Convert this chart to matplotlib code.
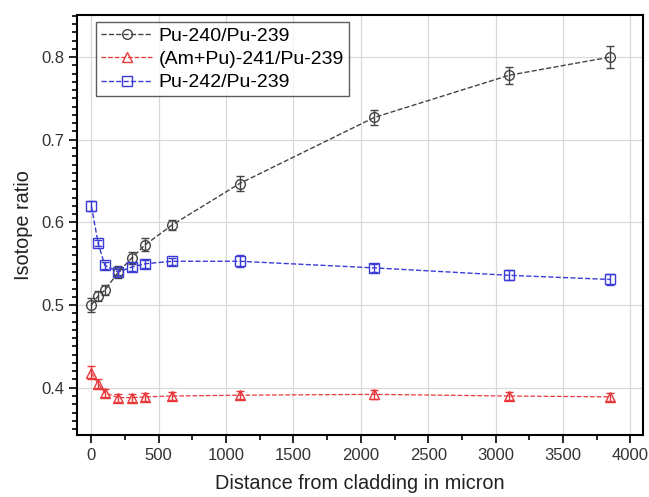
import numpy as np
import matplotlib.pyplot as plt
from matplotlib.ticker import MultipleLocator

plt.rcParams['font.family'] = ['Liberation Sans', 'DejaVu Sans']

# distance from cladding (micron)
distance = [0, 50, 100, 200, 300, 400, 600, 1100, 2100, 3100, 3850]

pu240 = [0.500, 0.511, 0.518, 0.540, 0.557, 0.573, 0.597, 0.647, 0.727, 0.778, 0.800]
pu240_err = [0.008, 0.006, 0.006, 0.007, 0.007, 0.008, 0.006, 0.009, 0.009, 0.010, 0.013]

am241 = [0.418, 0.405, 0.394, 0.388, 0.388, 0.389, 0.390, 0.391, 0.392, 0.390, 0.389]
am241_err = [0.008, 0.005, 0.005, 0.005, 0.005, 0.005, 0.005, 0.005, 0.005, 0.005, 0.005]

pu242 = [0.620, 0.575, 0.548, 0.540, 0.546, 0.550, 0.553, 0.553, 0.545, 0.536, 0.531]
pu242_err = [0.006, 0.004, 0.004, 0.004, 0.005, 0.005, 0.004, 0.007, 0.005, 0.006, 0.007]

labels = ['Pu-240/Pu-239', '(Am+Pu)-241/Pu-239', 'Pu-242/Pu-239']

fig = plt.figure(figsize=(6.49, 4.97), dpi=100)
ax = fig.add_axes([0.119, 0.125, 0.872, 0.845])

e1 = ax.errorbar(distance, pu240, yerr=pu240_err, color='#444444', ls='--', lw=1,
                 marker='o', ms=7, mfc='none', mew=1, capsize=3, elinewidth=1,
                 zorder=3)
e2 = ax.errorbar(distance, am241, yerr=am241_err, color='#e8383c', ls='--', lw=0.9,
                 marker='^', ms=7, mfc='none', mew=1, capsize=3, elinewidth=1,
                 zorder=3)
e3 = ax.errorbar(distance, pu242, yerr=pu242_err, color='#3b3bd6', ls='--', lw=1,
                 marker='s', ms=7, mfc='none', mew=1, capsize=3, elinewidth=1,
                 zorder=3)

ax.set_xlim(-105, 4095)
ax.set_ylim(0.343, 0.851)
ax.xaxis.set_major_locator(MultipleLocator(500))
ax.xaxis.set_minor_locator(MultipleLocator(250))
ax.yaxis.set_major_locator(MultipleLocator(0.1))
ax.yaxis.set_minor_locator(MultipleLocator(0.01))
ax.tick_params(which='major', direction='out', length=6, width=1.2, labelsize=12,
               labelcolor='#333333', top=False, right=False)
ax.tick_params(which='minor', direction='out', length=3.5, width=1.2, top=False, right=False)
ax.grid(True, which='major', color='#d9d9d9', lw=0.9)
ax.set_axisbelow(True)
for s in ax.spines.values():
    s.set_linewidth(1.5)

ax.set_xlabel('Distance from cladding in micron', fontsize=14.3, color='#222222', labelpad=8)
ax.set_ylabel('Isotope ratio', fontsize=14.3, color='#222222', labelpad=6)

leg = ax.legend([e1[0], e2[0], e3[0]], labels, loc='upper left', fontsize=14,
                frameon=True, fancybox=False, edgecolor='#333333', handlelength=2.6,
                borderpad=0.25, labelspacing=0.3, handletextpad=0.35, numpoints=1,
                borderaxespad=0, bbox_to_anchor=(0.034, 0.983))
leg.get_frame().set_linewidth(1.0)

fig.savefig('out.png', dpi=100)
